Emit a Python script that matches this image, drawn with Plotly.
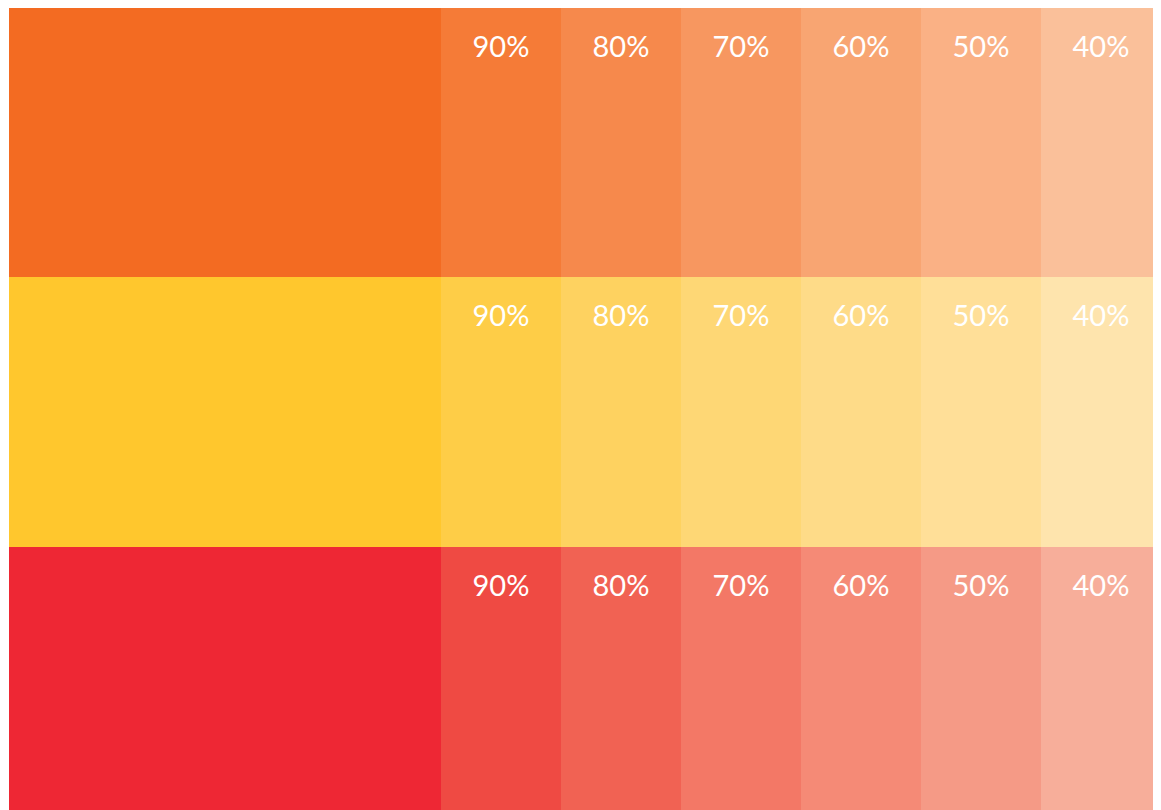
import plotly.graph_objects as go

# Data
rows = ["Orange", "Yellow", "Red"]
tint_labels = ["90%", "80%", "70%", "60%", "50%", "40%"]
base_span = 3.6          # width of the solid swatch (in swatch units)
tint_span = 1.0          # width of each tint swatch

base_colors = ["#F36B22", "#FFC72D", "#EE2734"]
tint_colors = [
    ["#F57B37", "#F6894C", "#F79760", "#F8A572", "#FAB185", "#FAC09A"],
    ["#FECD47", "#FED260", "#FED775", "#FEDB88", "#FFDF98", "#FEE4AD"],
    ["#EF4A43", "#F16253", "#F37866", "#F58A76", "#F59A86", "#F7AE9A"],
]

row_idx = list(range(len(rows)))

fig = go.Figure()

# solid base swatch
fig.add_trace(go.Bar(
    y=row_idx, x=[base_span] * len(rows), orientation="h",
    marker=dict(color=base_colors, line=dict(width=0)),
    hoverinfo="skip", showlegend=False,
))

# tint swatches
for j, lab in enumerate(tint_labels):
    fig.add_trace(go.Bar(
        y=row_idx, x=[tint_span] * len(rows), orientation="h",
        marker=dict(color=[tint_colors[r][j] for r in row_idx], line=dict(width=0)),
        hoverinfo="skip", showlegend=False,
    ))

# labels near the top of each tint swatch
lx, ly, lt = [], [], []
for r in row_idx:
    for j, lab in enumerate(tint_labels):
        lx.append(base_span + tint_span * j + tint_span / 2)
        ly.append(r - 0.5 + 0.155)
        lt.append(lab)

fig.add_trace(go.Scatter(
    x=lx, y=ly, text=lt, mode="text",
    textfont=dict(family="Lato", size=29, color="white"),
    hoverinfo="skip", showlegend=False,
))

total = base_span + tint_span * len(tint_labels)
fig.update_layout(
    barmode="stack", bargap=0,
    width=1153, height=808,
    margin=dict(l=1, r=0, t=0, b=0),
    paper_bgcolor="white", plot_bgcolor="white",
    xaxis=dict(range=[0, total], visible=False, fixedrange=True),
    yaxis=dict(range=[len(rows) - 0.5, -0.5], visible=False, fixedrange=True),
)

fig.write_html("out.html")
